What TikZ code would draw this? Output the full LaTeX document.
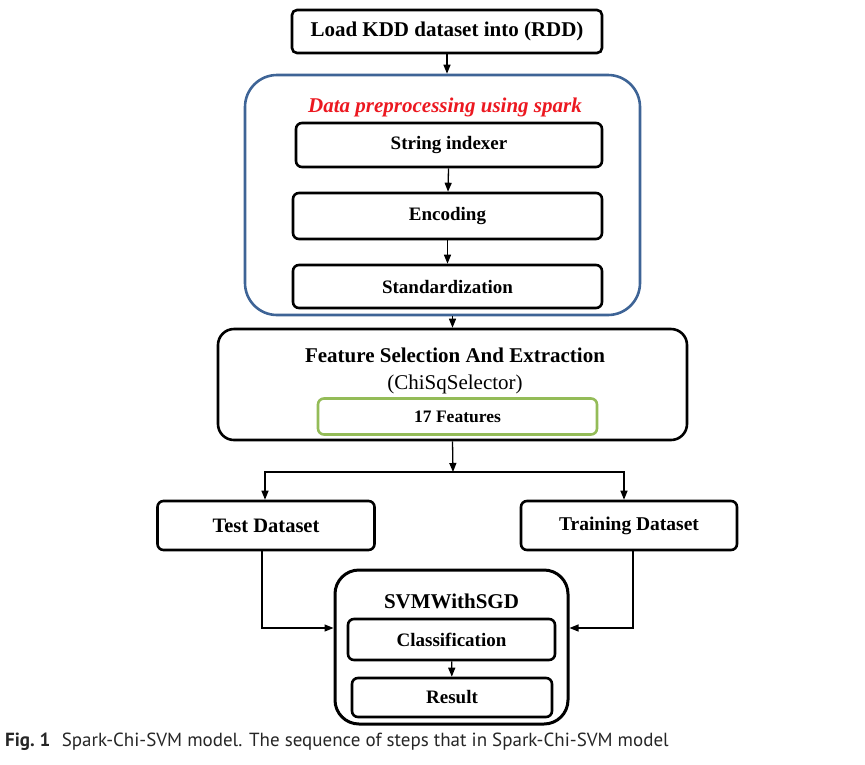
\documentclass[tikz,border=0pt]{standalone}
\usepackage{fontspec}
\setmainfont{Liberation Serif}
\newfontfamily\capfont{PT Sans}
\usetikzlibrary{arrows.meta}

\definecolor{sparkblue}{RGB}{62,100,150}
\definecolor{featgreen}{RGB}{148,188,88}
\definecolor{titlered}{RGB}{236,24,32}

\begin{document}
\begin{tikzpicture}[
  x=1pt, y=-1pt,
  stepbox/.style={
    rectangle, rounded corners=6pt,
    draw, line width=2.6pt,
    inner sep=0pt, align=center,
    font=\bfseries\fontsize{19}{22}\selectfont
  },
  groupbox/.style={rectangle, draw, line width=2.6pt, inner sep=0pt},
  arr/.style={-{Triangle[length=9pt, width=7pt]}, line width=1.3pt},
  plain/.style={line width=1.3pt}
]
\useasboundingbox (0,0) rectangle (865,764);

% loading step
\node[stepbox, minimum width=310pt, minimum height=43pt, rounded corners=5pt,
      font=\bfseries\fontsize{21}{24}\selectfont] (load) at (447,31.5) {Load KDD dataset into (RDD)};

% preprocessing group
\node[groupbox, draw=sparkblue, rounded corners=32pt,
      minimum width=395pt, minimum height=240pt] (prep) at (442.5,195) {};
\node[text=titlered, font=\bfseries\itshape\fontsize{21}{24}\selectfont] (preptitle) at (445,107) {Data preprocessing using spark};
\node[stepbox, minimum width=306pt, minimum height=44pt] (si) at (449,145) {String indexer};
\node[stepbox, minimum width=309pt, minimum height=46pt] (enc) at (447.5,216) {Encoding};
\node[stepbox, minimum width=309pt, minimum height=43pt] (std) at (447.5,286.5) {Standardization};

% feature selection
\node[groupbox, rounded corners=16pt, minimum width=469pt, minimum height=111pt] (feat) at (452.5,384.5) {};
\node[font=\bfseries\fontsize{21}{24}\selectfont] (feattitle) at (455,355) {Feature Selection And Extraction};
\node[font=\fontsize{21}{24}\selectfont] (featsub) at (455,384) {(ChiSqSelector)};
\node[stepbox, draw=featgreen, minimum width=279pt, minimum height=36pt,
      font=\bfseries\fontsize{17.5}{20}\selectfont] (nfeat) at (457.5,416.5) {17 Features};

% datasets
\coordinate (split) at (453,472);
\node[stepbox, minimum width=217pt, minimum height=49pt,
      font=\bfseries\fontsize{20.5}{24}\selectfont] (test) at (266,525.5) {Test Dataset};
\node[stepbox, minimum width=216pt, minimum height=49pt,
      font=\bfseries\fontsize{19.5}{24}\selectfont] (train) at (629,525.5) {Training Dataset};

% classifier
\node[groupbox, rounded corners=24pt, line width=3pt, minimum width=233pt, minimum height=154pt] (svm) at (451.5,647) {};
\node[font=\bfseries\fontsize{21}{24}\selectfont] (svmtitle) at (451.5,601) {SVMWithSGD};
\node[stepbox, minimum width=207pt, minimum height=41pt] (cls) at (451.5,639.5) {Classification};
\node[stepbox, minimum width=200pt, minimum height=39pt] (res) at (452,697.5) {Result};

% caption
\node[anchor=west, inner sep=0pt, text=black!85, font=\capfont\fontsize{19}{22}\selectfont] (caption) at (5,742)
  {\textbf{Fig.~1}\hspace{0.6em}Spark-Chi-SVM model. The sequence of steps that in Spark-Chi-SVM model};

\draw[arr] (load.south) -- (load.south |- prep.north);
\draw[arr] (si) -- (enc);
\draw[arr] (enc) -- (std);
\draw[arr] (feat.north |- prep.south) -- (feat.north);
\draw[arr] (feat.south) -- (split);
\draw[arr] (split) -| ([xshift=-1pt]test.north);
\draw[arr] (split) -| ([xshift=-5pt]train.north);
\draw[arr] ([xshift=-4pt]test.south) |- ([yshift=19pt]svm.west);
\draw[arr] ([xshift=4pt]train.south) |- ([yshift=19pt]svm.east);
\draw[arr] (cls) -- (res);

\end{tikzpicture}
\end{document}
